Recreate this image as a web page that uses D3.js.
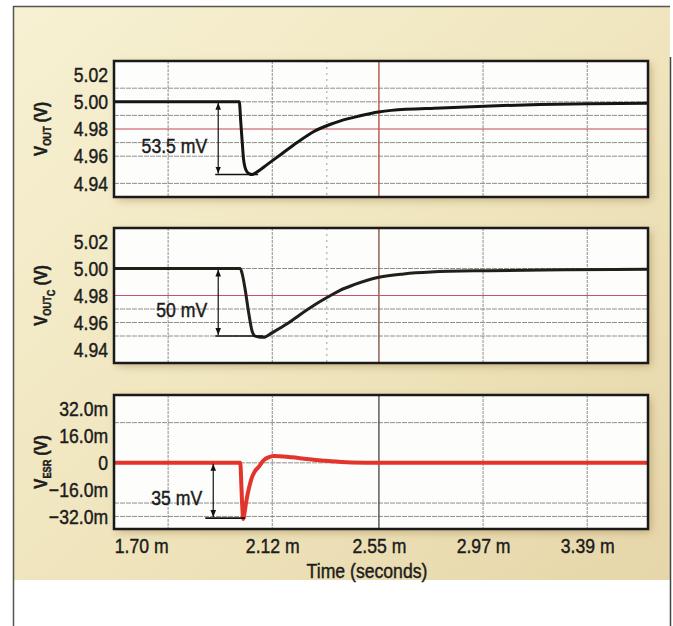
<!DOCTYPE html>
<html>
<head>
<meta charset="utf-8">
<script src="https://cdn.jsdelivr.net/npm/d3@7"></script>
<style>
html, body { margin: 0; padding: 0; background: #fff; }
svg { display: block; }
text { font-family: "Liberation Sans", Arial, Helvetica, sans-serif; fill: #1c1c1c;
       stroke: #1c1c1c; stroke-width: 0.45px; }
</style>
</head>
<body>
<script>
/* tick labels */
const timeTicks = [1.70, 2.12, 2.55, 2.97, 3.39];      // ms
const voltTicks = [5.02, 5.00, 4.98, 4.96, 4.94];      // V
const esrTicks = [32, 16, 0, -16, -32];                // mV

/* traces: [time (ms), value] */
const vOut = [
  [1.48, 5.000], [1.987, 5.000], [1.993, 4.985], [1.999, 4.970], [2.004, 4.958],
  [2.010, 4.952], [2.018, 4.9485], [2.028, 4.947], [2.038, 4.9465], [2.055, 4.948],
  [2.100, 4.954], [2.160, 4.962], [2.220, 4.970], [2.286, 4.978], [2.355, 4.9835],
  [2.395, 4.986], [2.470, 4.9895], [2.548, 4.9925], [2.600, 4.9937], [2.800, 4.9955],
  [3.000, 4.997], [3.200, 4.998], [3.400, 4.9985], [3.635, 4.999]
];
const vOutC = [
  [1.48, 5.000], [1.991, 5.000], [2.000, 4.995], [2.011, 4.984], [2.025, 4.967],
  [2.038, 4.954], [2.050, 4.950], [2.065, 4.9493], [2.085, 4.949], [2.120, 4.9525],
  [2.180, 4.959], [2.233, 4.966], [2.290, 4.973], [2.355, 4.980], [2.395, 4.984],
  [2.450, 4.988], [2.550, 4.9935], [2.650, 4.996], [2.760, 4.9974], [2.990, 4.9984],
  [3.300, 4.999], [3.635, 4.9995]
];
const vEsr = [   // mV
  [1.48, 0], [1.991, 0], [1.995, -12], [1.999, -26], [2.003, -33.5], [2.008, -30],
  [2.014, -24], [2.023, -17], [2.035, -10], [2.050, -5], [2.065, -2.5], [2.085, 1.5],
  [2.105, 3.3], [2.125, 4.1], [2.150, 4.0], [2.200, 3.3], [2.260, 2.3], [2.330, 1.3],
  [2.400, 0.5], [2.500, 0.1], [2.600, 0], [3.635, 0]
];

/* scope graticule */
const gridOut = [5.01, 5.00, 4.99, 4.97, 4.96, 4.94];
const gridOutC = [5.00, 4.97, 4.96, 4.95];
const gridEsr = [24, 0, -24, -32];
const refLevel = 4.98;

/* dip annotations */
const dipLabels = ['53.5 mV', '50 mV', '35 mV'];
const dipFrom = [5.00, 5.00, 0];
const dipTo = [4.9465, 4.95, -33];

/* canvas */
const width = 673;
const height = 626;
const left = 114, right = 648;
const squeeze = 'scale(0.84,1)';   // condensed look of the original lettering

const panels = [
  { top: 61, bottom: 197, domain: [4.93, 5.03], ticks: voltTicks, fmt: d => d.toFixed(2),
    data: vOut, grid: gridOut, ref: refLevel, color: '#151515', lw: 3, mid: '#b5463c',
    extra: true, title: ['V', 'OUT', null], arrowAt: 1.902, bar: [1.89, 2.063] },
  { top: 228, bottom: 363, domain: [4.93, 5.03], ticks: voltTicks, fmt: d => d.toFixed(2),
    data: vOutC, grid: gridOutC, ref: refLevel, color: '#1f2119', lw: 3, mid: '#7a4a3a',
    extra: true, title: ['V', 'OUT', 'C'], arrowAt: 1.902, bar: [1.89, 2.084] },
  { top: 395, bottom: 529, domain: [-39.5, 40.5], ticks: esrTicks,
    fmt: d => d === 0 ? '0' : (d < 0 ? '\u2212' : '') + Math.abs(d).toFixed(1) + 'm',
    data: vEsr, grid: gridEsr, ref: null, color: '#e2342a', lw: 4, mid: '#4a4040',
    extra: false, title: ['V', 'ESR', null], arrowAt: 1.882, bar: [1.85, 2.011] }
];

const svg = d3.select('body').append('svg')
  .attr('width', width)
  .attr('height', height);

const defs = svg.append('defs');
const bg = defs.append('linearGradient').attr('id', 'bg')
  .attr('x1', 0).attr('y1', 0).attr('x2', 1).attr('y2', 1);
bg.append('stop').attr('offset', '0%').attr('stop-color', '#f7f1d3');
bg.append('stop').attr('offset', '55%').attr('stop-color', '#efe4bc');
bg.append('stop').attr('offset', '100%').attr('stop-color', '#e6d6a9');

defs.append('filter').attr('id', 'shadow')
  .attr('x', '-10%').attr('y', '-20%').attr('width', '120%').attr('height', '140%')
  .append('feGaussianBlur').attr('stdDeviation', 4);

defs.append('marker').attr('id', 'arrow')
  .attr('viewBox', '0 0 10 10').attr('refX', 10).attr('refY', 5)
  .attr('markerWidth', 7).attr('markerHeight', 7)
  .attr('markerUnits', 'userSpaceOnUse')
  .attr('orient', 'auto-start-reverse')
  .append('path').attr('d', 'M0,1 L10,5 L0,9 Z').attr('fill', '#111');

/* page background and border */
svg.append('rect').attr('x', 14).attr('y', 7).attr('width', 656).attr('height', 573)
  .attr('fill', 'url(#bg)');
svg.append('path').attr('d', 'M13.5,626 V6.5 H670').attr('fill', 'none')
  .attr('stroke', '#555').attr('stroke-width', 1.5);
svg.append('line').attr('x1', 670.5).attr('x2', 670.5).attr('y1', 57).attr('y2', 626)
  .attr('stroke', '#444').attr('stroke-width', 1.5);

/* x scale shared by all panels */
const xScale = d3.scaleLinear()
  .domain([1.4818, 3.635])
  .range([left, right]);

panels.forEach((p, i) => {
  const yScale = d3.scaleLinear().domain(p.domain).range([p.bottom, p.top]);
  const g = svg.append('g');

  // shadow + white plot area
  g.append('rect').attr('x', left + 3).attr('y', p.top + 3)
    .attr('width', right - left).attr('height', p.bottom - p.top)
    .attr('fill', '#a88c5a').attr('opacity', 0.6).attr('filter', 'url(#shadow)');
  g.append('rect').attr('x', left).attr('y', p.top)
    .attr('width', right - left).attr('height', p.bottom - p.top)
    .attr('fill', '#fdfdfb');

  // horizontal graticule
  g.selectAll('.hgrid').data(p.grid).enter().append('line')
    .attr('x1', left).attr('x2', right)
    .attr('y1', d => yScale(d)).attr('y2', d => yScale(d))
    .attr('stroke', '#8e8e8e').attr('stroke-width', 1).attr('stroke-dasharray', '5,1');

  // vertical graticule
  g.selectAll('.vgrid').data(timeTicks).enter().append('line')
    .attr('x1', d => xScale(d)).attr('x2', d => xScale(d))
    .attr('y1', p.top).attr('y2', p.bottom)
    .attr('stroke', d => d === 2.55 ? p.mid : '#8e8e8e')
    .attr('stroke-width', d => d === 2.55 ? 1.3 : 1)
    .attr('stroke-dasharray', d => d === 2.55 ? null : '3,1');
  if (p.extra) {
    g.append('line')
      .attr('x1', xScale(2.34)).attr('x2', xScale(2.34))
      .attr('y1', p.top).attr('y2', p.bottom)
      .attr('stroke', '#a0a0a0').attr('stroke-width', 1).attr('stroke-dasharray', '2,4');
  }

  // red reference level
  if (p.ref !== null) {
    g.append('line').attr('x1', left).attr('x2', right)
      .attr('y1', yScale(p.ref)).attr('y2', yScale(p.ref))
      .attr('stroke', i === 0 ? '#c24a55' : '#c8507a').attr('stroke-width', 1.2);
  }

  // trace
  const clipId = 'clip' + i;
  defs.append('clipPath').attr('id', clipId).append('rect')
    .attr('x', left).attr('y', p.top).attr('width', right - left).attr('height', p.bottom - p.top);
  const line = d3.line()
    .x(d => xScale(d[0]))
    .y(d => yScale(d[1]))
    .curve(d3.curveMonotoneX);
  g.append('path').datum(p.data)
    .attr('clip-path', `url(#${clipId})`)
    .attr('fill', 'none').attr('stroke', p.color).attr('stroke-width', p.lw)
    .attr('stroke-linejoin', 'round').attr('d', line);

  // dip annotation
  const ax = xScale(p.arrowAt);
  g.append('line')
    .attr('x1', ax).attr('x2', ax)
    .attr('y1', yScale(dipFrom[i]) + 1).attr('y2', yScale(dipTo[i]) - 1)
    .attr('stroke', '#111').attr('stroke-width', 1.2)
    .attr('marker-start', 'url(#arrow)').attr('marker-end', 'url(#arrow)');
  g.append('line')
    .attr('x1', xScale(p.bar[0])).attr('x2', xScale(p.bar[1]))
    .attr('y1', yScale(dipTo[i])).attr('y2', yScale(dipTo[i]))
    .attr('stroke', '#111').attr('stroke-width', 1.6);
  g.append('g')
    .attr('transform', `translate(${ax - 11},${yScale((dipFrom[i] + dipTo[i]) / 2) + 7})`)
    .append('text')
    .attr('transform', squeeze)
    .attr('dy', '0.35em')
    .attr('text-anchor', 'end')
    .attr('font-size', 21)
    .text(dipLabels[i]);

  // frame
  g.append('rect').attr('x', left).attr('y', p.top)
    .attr('width', right - left).attr('height', p.bottom - p.top)
    .attr('fill', 'none').attr('stroke', '#1a1a1a').attr('stroke-width', 2.5);

  // y axis
  const yAxis = g.append('g')
    .attr('transform', `translate(${left},0)`)
    .call(d3.axisLeft(yScale).tickValues(p.ticks).tickSize(0).tickPadding(7).tickFormat(p.fmt));
  yAxis.select('.domain').remove();
  yAxis.selectAll('text').attr('font-size', 21).attr('font-family', null)
    .attr('fill', '#1c1c1c').attr('transform', squeeze);

  // y title
  const cy = (p.top + p.bottom) / 2;
  const t = g.append('text')
    .attr('transform', `translate(47,${cy}) rotate(-90) ${squeeze}`)
    .attr('text-anchor', 'middle')
    .attr('font-size', 18)
    .attr('font-weight', 'bold');
  t.append('tspan').text(p.title[0]);
  t.append('tspan').attr('font-size', 11).attr('dy', 4).text(p.title[1]);
  let back = -4;
  if (p.title[2]) {
    t.append('tspan').attr('font-size', 11).attr('dy', 4).text(p.title[2]);
    back = -8;
  }
  t.append('tspan').attr('dy', back).text('\u00a0(V)');

  // x axis on the last panel only
  if (i === panels.length - 1) {
    const xAxis = g.append('g')
      .attr('transform', `translate(0,${p.bottom})`)
      .call(d3.axisBottom(xScale).tickValues(timeTicks).tickSize(0).tickPadding(9)
        .tickFormat(d => d.toFixed(2) + ' m'));
    xAxis.select('.domain').remove();
    xAxis.selectAll('text').attr('font-size', 21).attr('font-family', null)
      .attr('fill', '#1c1c1c').attr('transform', squeeze);
    xAxis.select('.tick text').attr('text-anchor', 'end');
  }
});

/* x title */
svg.append('g')
  .attr('transform', 'translate(367,578)')
  .append('text')
  .attr('transform', squeeze)
  .attr('text-anchor', 'middle')
  .attr('font-size', 21)
  .text('Time (seconds)');
</script>
</body>
</html>
